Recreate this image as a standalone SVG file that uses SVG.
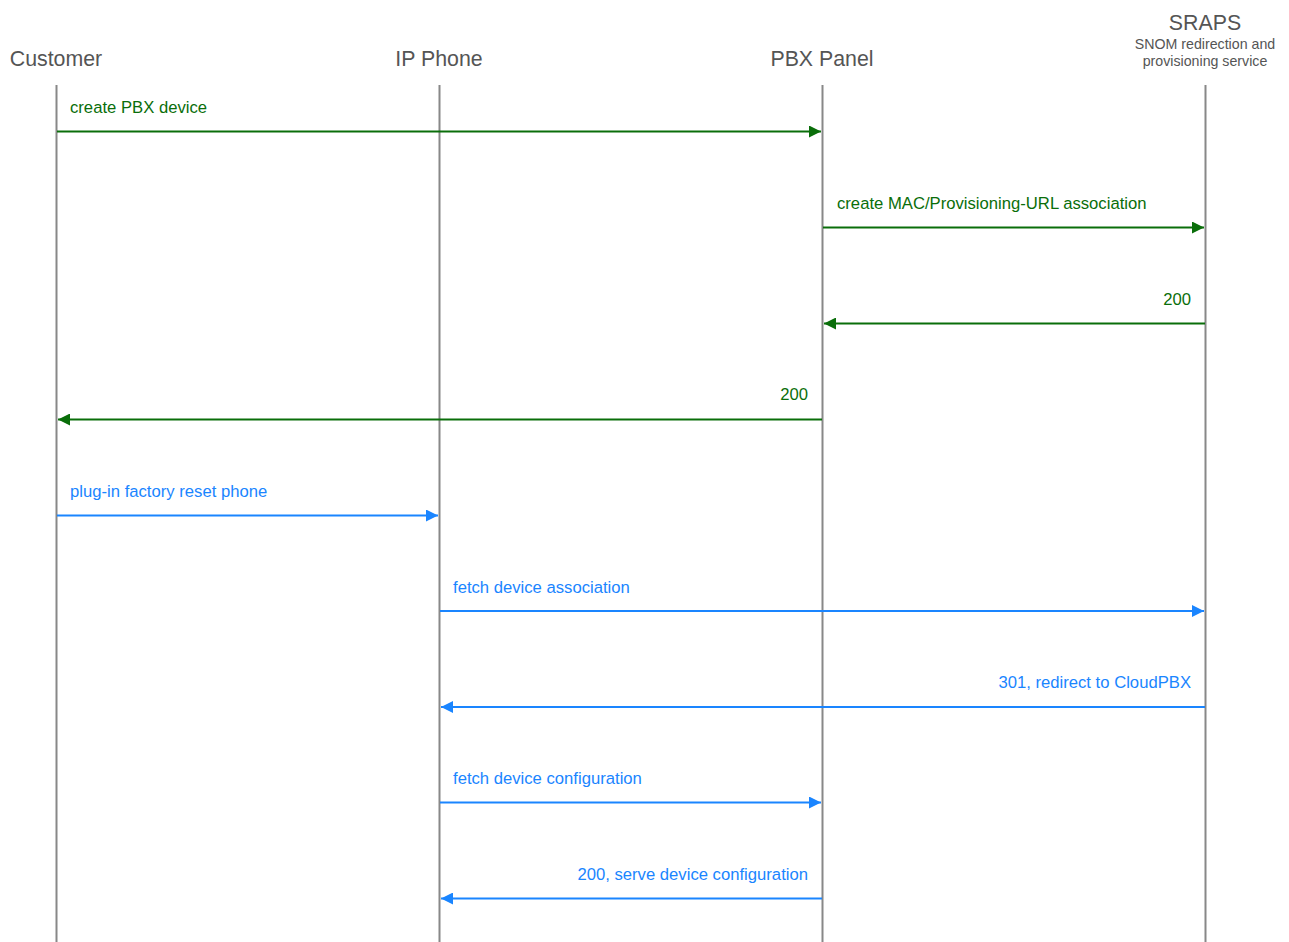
<svg xmlns="http://www.w3.org/2000/svg" width="1289" height="942" viewBox="0 0 1289 942">
<style>
.hdr{font-family:"Liberation Sans",Arial,sans-serif;font-size:21.33px;fill:#555;text-anchor:middle}
.sub{font-family:"Liberation Sans",Arial,sans-serif;font-size:14.2px;fill:#555;text-anchor:middle}
.life{stroke:#888;stroke-width:2;fill:none}
.g{stroke:#0a6e0a;stroke-width:2;fill:none}
.b{stroke:#1a85ff;stroke-width:2;fill:none}
.gl{font-family:"Liberation Sans",Arial,sans-serif;font-size:16.67px;fill:#0a6e0a}
.bl{font-family:"Liberation Sans",Arial,sans-serif;font-size:16.67px;fill:#1a85ff}
.end{text-anchor:end}
</style>
<defs>
<marker id="ag" viewBox="0 0 10 10" refX="10" refY="5" markerWidth="6" markerHeight="6" markerUnits="strokeWidth" orient="auto"><path d="M0,0 L10,5 L0,10 z" fill="#0a6e0a"/></marker>
<marker id="ab" viewBox="0 0 10 10" refX="10" refY="5" markerWidth="6" markerHeight="6" markerUnits="strokeWidth" orient="auto"><path d="M0,0 L10,5 L0,10 z" fill="#1a85ff"/></marker>
</defs>
<rect width="1289" height="942" fill="#fff"/>
<g id="customer"><text class="hdr" x="56" y="66">Customer</text><line class="life" x1="56.5" y1="85" x2="56.5" y2="942"/></g>
<g id="ipphone"><text class="hdr" x="439" y="66">IP Phone</text><line class="life" x1="439.5" y1="85" x2="439.5" y2="942"/></g>
<g id="pbxpanel"><text class="hdr" x="822" y="66">PBX Panel</text><line class="life" x1="822.5" y1="85" x2="822.5" y2="942"/></g>
<g id="sraps"><text class="hdr" x="1205" y="30">SRAPS</text><text class="sub" x="1205" y="49">SNOM redirection and</text><text class="sub" x="1205" y="66">provisioning service</text><line class="life" x1="1205.5" y1="85" x2="1205.5" y2="942"/></g>
<g id="connectors">
<line class="g" x1="57" y1="131.5" x2="821" y2="131.5" marker-end="url(#ag)"/>
<text class="gl" x="70" y="113">create PBX device</text>
<line class="g" x1="823" y1="227.5" x2="1204" y2="227.5" marker-end="url(#ag)"/>
<text class="gl" x="837" y="209">create MAC/Provisioning-URL association</text>
<line class="g" x1="1205" y1="323.5" x2="824" y2="323.5" marker-end="url(#ag)"/>
<text class="gl end" x="1191" y="305">200</text>
<line class="g" x1="822" y1="419.5" x2="58" y2="419.5" marker-end="url(#ag)"/>
<text class="gl end" x="808" y="400">200</text>
<line class="b" x1="57" y1="515.5" x2="438" y2="515.5" marker-end="url(#ab)"/>
<text class="bl" x="70" y="497">plug-in factory reset phone</text>
<line class="b" x1="440" y1="611" x2="1204" y2="611" marker-end="url(#ab)"/>
<text class="bl" x="453" y="593">fetch device association</text>
<line class="b" x1="1205" y1="707" x2="441" y2="707" marker-end="url(#ab)"/>
<text class="bl end" x="1191" y="688">301, redirect to CloudPBX</text>
<line class="b" x1="440" y1="802.5" x2="821" y2="802.5" marker-end="url(#ab)"/>
<text class="bl" x="453" y="784">fetch device configuration</text>
<line class="b" x1="822" y1="898.5" x2="441" y2="898.5" marker-end="url(#ab)"/>
<text class="bl end" x="808" y="880">200, serve device configuration</text>
</g>
</svg>
